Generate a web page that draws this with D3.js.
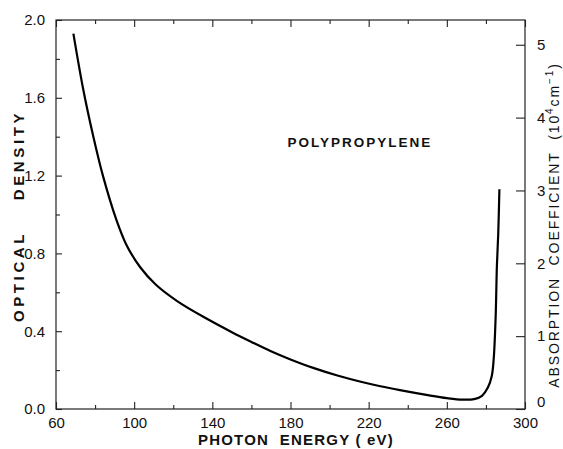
<!DOCTYPE html>
<html>
<head>
<meta charset="utf-8">
<script src="https://cdn.jsdelivr.net/npm/d3@7"></script>
<style>
  html, body { margin: 0; padding: 0; background: #fff; }
  svg text { font-family: "Liberation Sans", "DejaVu Sans", sans-serif; fill: #111; }
</style>
</head>
<body>
<svg id="chart" width="563" height="449"></svg>
<script>
// Photon energy (eV) and optical density of the polypropylene film
const energy = [68.9, 74, 79, 84, 91, 96, 103, 111, 122, 137, 150, 160, 170, 180, 192,
                204, 216, 226, 236, 251, 260, 268, 274, 278, 281, 283, 284, 285, 285.6, 286.3, 286.9];
const density = [1.93, 1.64, 1.405, 1.20, 0.97, 0.845, 0.73, 0.64, 0.555, 0.465, 0.395, 0.345, 0.297,
                 0.255, 0.21, 0.172, 0.14, 0.117, 0.097, 0.07, 0.056, 0.048, 0.051, 0.068, 0.11,
                 0.17, 0.26, 0.48, 0.73, 0.9, 1.13];

const xTicks = [60, 100, 140, 180, 220, 260, 300];
const xMinor = [80, 120, 160, 200, 240, 280];
const yTicks = [0.0, 0.4, 0.8, 1.2, 1.6, 2.0];
const yMinor = [0.2, 0.6, 1.0, 1.4, 1.8];
const absTicks = [0, 1, 2, 3, 4, 5];
// absorption coefficient (10^4 cm^-1) per unit optical density
const absPerOD = 2.67;

const svg = d3.select("#chart");
const m = { left: 56, right: 525, top: 20, bottom: 409 };

const x = d3.scaleLinear().domain([60, 300]).range([m.left, m.right]);
const y = d3.scaleLinear().domain([0, 2.0]).range([m.bottom, m.top]);
const yAbs = d3.scaleLinear().domain([0, 2.0 * absPerOD]).range([m.bottom, m.top]);

const ink = "#222";

// frame
svg.append("rect")
  .attr("x", m.left).attr("y", m.top)
  .attr("width", m.right - m.left).attr("height", m.bottom - m.top)
  .attr("fill", "none").attr("stroke", ink).attr("stroke-width", 1.2);

function styleAxis(g) {
  g.select(".domain").remove();
  g.selectAll("line").attr("stroke", ink).attr("stroke-width", 1.1);
}

// bottom axis (ticks pointing inward)
svg.append("g").attr("transform", `translate(0,${m.bottom})`)
  .call(d3.axisBottom(x).tickValues(xTicks).tickSize(-7).tickPadding(8).tickFormat(d3.format("d")))
  .call(styleAxis)
  .selectAll("text").attr("font-size", 15);
svg.append("g").attr("transform", `translate(0,${m.bottom})`)
  .call(d3.axisBottom(x).tickValues(xMinor).tickSize(-4).tickFormat(""))
  .call(styleAxis);
// top axis
svg.append("g").attr("transform", `translate(0,${m.top})`)
  .call(d3.axisTop(x).tickValues(xTicks).tickSize(-7).tickFormat(""))
  .call(styleAxis);
svg.append("g").attr("transform", `translate(0,${m.top})`)
  .call(d3.axisTop(x).tickValues(xMinor).tickSize(-4).tickFormat(""))
  .call(styleAxis);

// left axis: optical density
svg.append("g").attr("transform", `translate(${m.left},0)`)
  .call(d3.axisLeft(y).tickValues(yTicks).tickSize(-6).tickPadding(11).tickFormat(d3.format(".1f")))
  .call(styleAxis)
  .selectAll("text").attr("font-size", 15);
svg.append("g").attr("transform", `translate(${m.left},0)`)
  .call(d3.axisLeft(y).tickValues(yMinor).tickSize(-4).tickFormat(""))
  .call(styleAxis);

// right axis: absorption coefficient
svg.append("g").attr("transform", `translate(${m.right},0)`)
  .call(d3.axisRight(yAbs).tickValues(absTicks).tickSize(-9).tickPadding(12).tickFormat(d3.format("d")))
  .call(styleAxis)
  .call(g => g.selectAll(".tick").filter(d => d === 0).select("text").attr("dy", "-0.2em"))
  .selectAll("text").attr("font-size", 15);

// curve
const pts = energy.map((e, i) => [e, density[i]]);
svg.append("path")
  .datum(pts)
  .attr("fill", "none")
  .attr("stroke", "#000")
  .attr("stroke-width", 2.2)
  .attr("stroke-linejoin", "round")
  .attr("d", d3.line().x(d => x(d[0])).y(d => y(d[1])).curve(d3.curveCatmullRom.alpha(0.5)));

// titles
svg.append("text")
  .attr("x", 296).attr("y", 445)
  .attr("text-anchor", "middle")
  .attr("font-size", 15).attr("font-weight", "bold")
  .attr("letter-spacing", 1.2)
  .attr("xml:space", "preserve")
  .text("PHOTON  ENERGY ( eV)");

svg.append("text")
  .attr("transform", "translate(24,216) rotate(-90)")
  .attr("text-anchor", "middle")
  .attr("font-size", 15).attr("font-weight", "bold")
  .attr("letter-spacing", 3.6)
  .attr("xml:space", "preserve")
  .text("OPTICAL    DENSITY");

const rt = svg.append("text")
  .attr("transform", "translate(559,225) rotate(-90)")
  .attr("text-anchor", "middle")
  .attr("font-size", 14)
  .attr("letter-spacing", 1.9)
  .attr("xml:space", "preserve");
rt.append("tspan").text("ABSORPTION  COEFFICIENT  (10");
rt.append("tspan").attr("dy", -6).attr("font-size", 10).text("4");
rt.append("tspan").attr("dy", 6).text("cm");
rt.append("tspan").attr("dy", -6).attr("font-size", 10).text("−1");
rt.append("tspan").attr("dy", 6).text(")");

svg.append("text")
  .attr("x", 360).attr("y", 147)
  .attr("text-anchor", "middle")
  .attr("font-size", 13.5).attr("font-weight", "bold")
  .attr("letter-spacing", 2)
  .text("POLYPROPYLENE");
</script>
</body>
</html>
